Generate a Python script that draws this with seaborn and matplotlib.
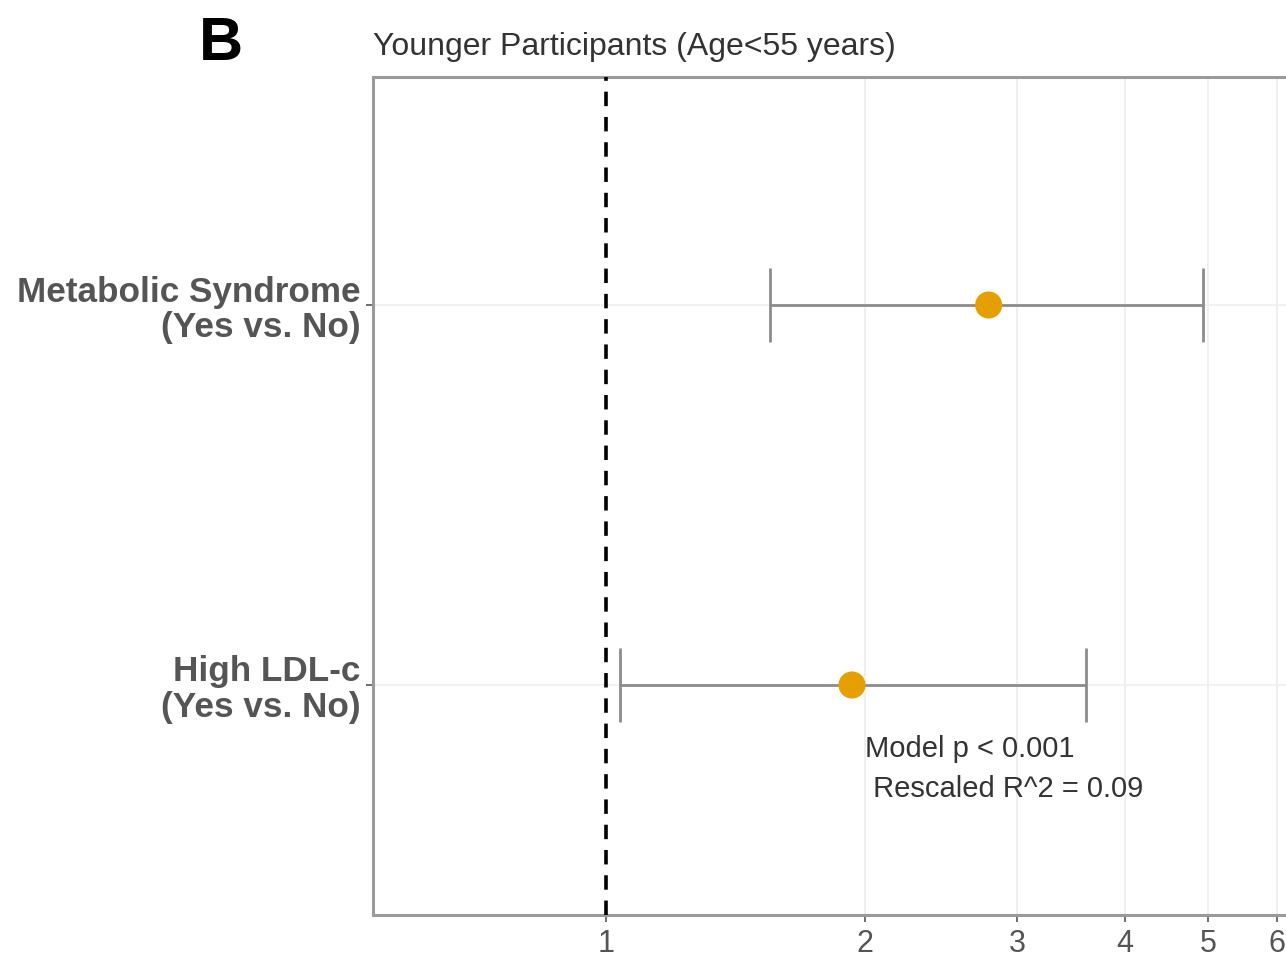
import matplotlib
matplotlib.use("Agg")
import matplotlib.pyplot as plt
import seaborn as sns
import pandas as pd

# odds ratios with 95% CI
labels = ["Metabolic Syndrome\n(Yes vs. No)", "High LDL-c\n(Yes vs. No)"]
odds_ratio = [2.78, 1.93]
ci_low = [1.55, 1.04]
ci_high = [4.93, 3.61]
x_ticks = [1, 2, 3, 4, 5, 6]

df = pd.DataFrame({"label": labels, "or": odds_ratio, "lo": ci_low, "hi": ci_high})
df["pos"] = range(len(df))

sns.set_theme(style="white")
plt.rcParams["font.family"] = ["Liberation Sans", "DejaVu Sans"]

fig = plt.figure(figsize=(12.86, 9.63), dpi=100)
ax = fig.add_axes([0.290, 0.050, 0.710, 0.870])

ax.set_xscale("log")
ax.set_xlim(0.537, 6.15)
ax.set_ylim(1.605, -0.6)

# light grid
for v in x_ticks[1:]:
    ax.axvline(v, color="#ececec", lw=1.2, zorder=0)
for p in df["pos"]:
    ax.axhline(p, color="#f0f0f0", lw=1.2, zorder=0)

# confidence intervals
ax.hlines(df["pos"], df["lo"], df["hi"], color="#8c8c8c", lw=2, zorder=2)
ax.vlines(df["lo"], df["pos"] - 0.097, df["pos"] + 0.097, color="#8c8c8c", lw=2, zorder=2)
ax.vlines(df["hi"], df["pos"] - 0.097, df["pos"] + 0.097, color="#8c8c8c", lw=2, zorder=2)

sns.scatterplot(data=df, x="or", y="pos", ax=ax, color="#E69F00", s=380,
                edgecolor="none", zorder=3, legend=False)

ax.axvline(1, color="black", lw=2.6, ls=(0, (4, 3)), zorder=4)

ax.set_xticks(x_ticks)
ax.set_xticklabels([str(t) for t in x_ticks])
ax.xaxis.set_minor_locator(matplotlib.ticker.NullLocator())
ax.set_yticks(df["pos"])
ax.set_yticklabels(df["label"], fontweight="bold", color="#555555", fontsize=25.3,
                   linespacing=1.1, ha="right")
ax.tick_params(axis="x", labelsize=22, colors="#555555", length=5, width=1.2,
               pad=5, direction="out", bottom=True)
ax.tick_params(axis="y", length=5, width=1.2, color="#555555", left=True, pad=4)
ax.set_xlabel("")
ax.set_ylabel("")

for side in ["left", "bottom", "top"]:
    ax.spines[side].set_color("#9a9a9a")
    ax.spines[side].set_linewidth(2.2)
ax.spines["right"].set_visible(False)

ax.text(2.0, 1.22, "Model p < 0.001\n Rescaled R^2 = 0.09", fontsize=21,
        color="#333333", ha="left", va="center", linespacing=1.55)

fig.text(373 / 1286, 1 - 47 / 963, "Younger Participants (Age<55 years)",
         fontsize=23, color="#333333", ha="left", va="center")
fig.text(221 / 1286, 1 - 44 / 963, "B", fontsize=44, fontweight="bold",
         color="black", ha="center", va="center")

fig.savefig("out.png", dpi=100)
